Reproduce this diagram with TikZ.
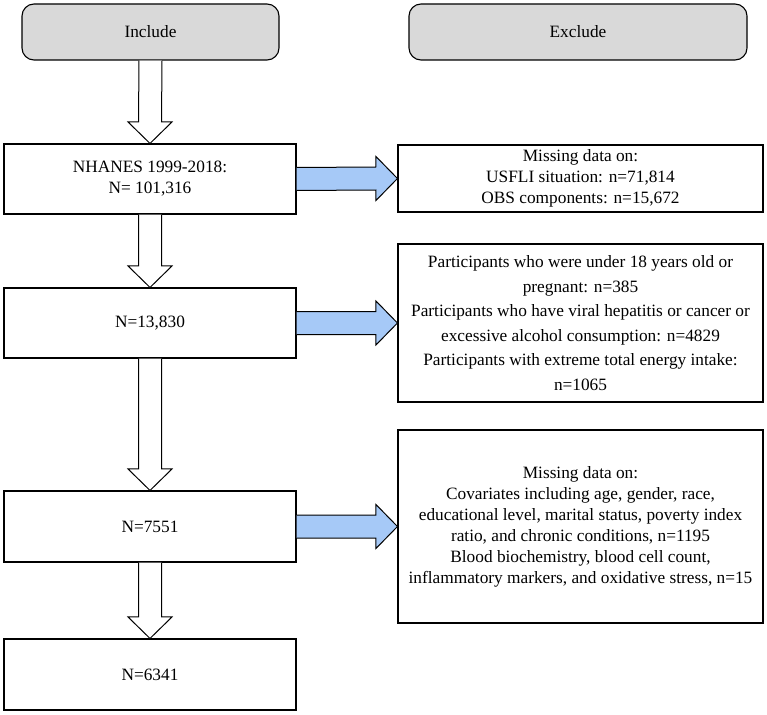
\documentclass[tikz,border=0pt]{standalone}
\usepackage{fontspec}
\setmainfont{Liberation Serif}
\usetikzlibrary{calc}
\definecolor{hdrgray}{RGB}{217,217,217}
\definecolor{arrblue}{RGB}{166,201,247}
\begin{document}
\begin{tikzpicture}[x=1pt,y=-1pt,
  every node/.style={font=\fontsize{17.3pt}{21pt}\selectfont, align=center, inner sep=0pt},
  hdr/.style={draw=black, line width=1.1pt, fill=hdrgray, rounded corners=12pt, minimum height=56pt},
  incbox/.style={draw=black, line width=1.1pt, fill=white, minimum width=292pt},
  exbox/.style={draw=black, line width=1.1pt, fill=white, minimum width=365pt},
  hollowarrow/.style={draw=black, line width=1pt, fill=white, line join=miter},
  bluearrow/.style={draw=black, line width=1pt, fill=arrblue, line join=miter}
]
\useasboundingbox (0,0) rectangle (767,714);
% header boxes
\node[hdr, minimum width=257pt] (inc) at (150.5,32) {Include};
\node[hdr, minimum width=338pt] (exc) at (578,32) {Exclude};
% include column
\node[incbox, minimum height=70pt] (n1) at (150,179) {NHANES 1999-2018:\\N= 101,316};
\node[incbox, minimum height=70pt] (n2) at (150,323) {N=13,830};
\node[incbox, minimum height=71pt] (n3) at (150,526.5) {N=7551};
\node[incbox, minimum height=71pt] (n4) at (150,674.5) {N=6341};
% exclude column
\node[exbox, minimum height=67pt] (e1) at (580.5,178.5) {Missing data on:\\USFLI situation: n=71,814\\OBS components: n=15,672};
\node[exbox, minimum height=158pt, font=\fontsize{17.3pt}{24.6pt}\selectfont] (e2) at (580.5,323) {Participants who were under 18 years old or\\pregnant: n=385\\Participants who have viral hepatitis or cancer or\\excessive alcohol consumption: n=4829\\Participants with extreme total energy intake:\\n=1065};
\node[exbox, minimum height=193pt] (e3) at (580.5,526.5) {Missing data on:\\Covariates including age, gender, race,\\educational level, marital status, poverty index\\ratio, and chronic conditions, n=1195\\Blood biochemistry, blood cell count,\\inflammatory markers, and oxidative stress, n=15};
% hollow down arrows
\foreach \a/\b in {inc/n1, n1/n2, n2/n3, n3/n4}{
  \draw[hollowarrow]
    ($(\a.south)+(-11.5,0)$) -- ($(\b.north)+(-11.5,-21.5)$) -- ($(\b.north)+(-22,-21.5)$)
    -- (\b.north) -- ($(\b.north)+(22,-21.5)$) -- ($(\b.north)+(11.5,-21.5)$)
    -- ($(\a.south)+(11.5,0)$);
}
% blue right arrows
\foreach \a/\b in {n1/e1, n2/e2, n3/e3}{
  \draw[bluearrow]
    ($(\a.east)+(0,-11.5)$) -- ($(\b.west)+(-21.5,-11.5)$) -- ($(\b.west)+(-21.5,-22)$)
    -- (\b.west) -- ($(\b.west)+(-21.5,22)$) -- ($(\b.west)+(-21.5,11.5)$)
    -- ($(\a.east)+(0,11.5)$);
}
\end{tikzpicture}
\end{document}
